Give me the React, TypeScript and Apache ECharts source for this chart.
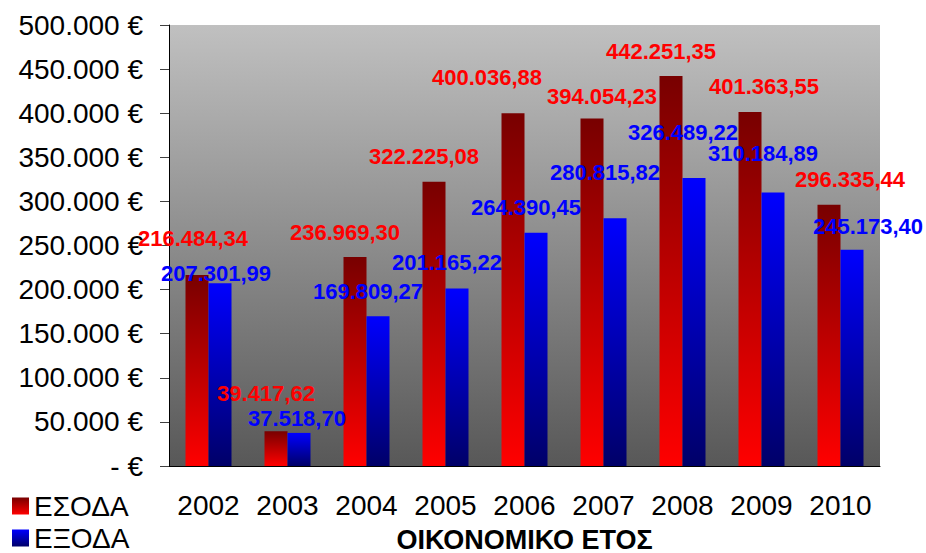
import React, { useEffect, useRef } from "react";
import * as echarts from "echarts";

const years = ["2002", "2003", "2004", "2005", "2006", "2007", "2008", "2009", "2010"];
const income = [216484.34, 39417.62, 236969.3, 322225.08, 400036.88, 394054.23, 442251.35, 401363.55, 296335.44];
const expenses = [207301.99, 37518.7, 169809.27, 201165.22, 264390.45, 280815.82, 326489.22, 310184.89, 245173.4];
const yTicks = [0, 50000, 100000, 150000, 200000, 250000, 300000, 350000, 400000, 450000, 500000];
const seriesNames = ["ΕΣΟΔΑ", "ΕΞΟΔΑ"];

// label offsets (style only) relative to each bar's top
const incomeLabelOffset = [[-4, -26], [-10, -27], [-10, -13], [-10, -14], [-26, -25], [10, -11], [-10, -13], [14, -14], [21, -14]];
const expenseLabelOffset = [[-4, 1], [-2, -3], [-10, -14], [-10, -15], [-10, -14], [-10, -35], [-11, -35], [-10, -28], [16, -12]];

const FONT = "'Liberation Sans', Arial, sans-serif";

function thousands(intStr: string): string {
  return intStr.replace(/\B(?=(\d{3})+(?!\d))/g, ".");
}
function fmtValue(v: number): string {
  const [i, d] = v.toFixed(2).split(".");
  return thousands(i) + "," + d;
}
function fmtAxis(v: number): string {
  if (v === 0) return "- €";
  return thousands(String(Math.round(v))) + " €";
}

export default function App() {
  const ref = useRef<HTMLDivElement>(null);
  useEffect(() => {
    if (!ref.current) return;
    const chart = echarts.init(ref.current, null, { renderer: "svg" });
    const redGrad = new echarts.graphic.LinearGradient(0, 0, 0, 1, [
      { offset: 0, color: "#780000" },
      { offset: 1, color: "#ff0000" },
    ]);
    const blueGrad = new echarts.graphic.LinearGradient(0, 0, 0, 1, [
      { offset: 0, color: "#0000ff" },
      { offset: 1, color: "#000068" },
    ]);
    const labelBase = {
      show: true,
      position: "top" as const,
      distance: 0,
      fontFamily: FONT,
      fontWeight: "bold" as const,
      fontSize: 22,
      formatter: (p: any) => fmtValue(p.value),
    };
    const legendBase = {
      orient: "vertical" as const,
      left: 12,
      itemWidth: 17,
      itemHeight: 17,
      icon: "rect",
      padding: 0,
      textStyle: { fontFamily: FONT, fontSize: 28, color: "#000", lineHeight: 30 },
    };
    chart.setOption({
      animation: false,
      backgroundColor: "#ffffff",
      textStyle: { fontFamily: FONT },
      grid: {
        left: 169,
        right: 46,
        top: 25,
        bottom: 87,
        show: true,
        borderWidth: 0,
        outerBoundsMode: "none",
        containLabel: false,
        backgroundColor: new echarts.graphic.LinearGradient(0, 0, 0, 1, [
          { offset: 0, color: "#c0c0c0" },
          { offset: 1, color: "#585858" },
        ]),
      },
      legend: [
        { ...legendBase, top: 491, data: [seriesNames[0]] },
        { ...legendBase, top: 523, data: [seriesNames[1]] },
      ],
      xAxis: {
        type: "category",
        data: years,
        name: "ΟΙΚΟΝΟΜΙΚΟ ΕΤΟΣ",
        nameLocation: "middle",
        nameGap: 60,
        nameTextStyle: { fontFamily: FONT, fontSize: 27, fontWeight: "bold", color: "#000" },
        axisLine: { lineStyle: { color: "#000", width: 1 } },
        axisTick: { length: 8, lineStyle: { color: "#404040" } },
        axisLabel: { fontFamily: FONT, fontSize: 28, color: "#000", margin: 25, interval: 0 },
      },
      yAxis: {
        type: "value",
        min: yTicks[0],
        max: yTicks[yTicks.length - 1],
        interval: yTicks[1] - yTicks[0],
        splitLine: { show: false },
        axisLine: { show: true, lineStyle: { color: "#000", width: 1 } },
        axisTick: { show: true, length: 9, lineStyle: { color: "#404040" } },
        axisLabel: { fontFamily: FONT, fontSize: 28, color: "#000", margin: 26, formatter: fmtAxis },
      },
      series: [
        {
          name: seriesNames[0],
          type: "bar",
          barWidth: 23,
          barGap: "0%",
          itemStyle: { color: redGrad },
          data: income.map((v, i) => ({
            value: v,
            label: { ...labelBase, color: "#ff0000", offset: incomeLabelOffset[i] },
          })),
        },
        {
          name: seriesNames[1],
          type: "bar",
          barWidth: 23,
          barGap: "0%",
          itemStyle: { color: blueGrad },
          data: expenses.map((v, i) => ({
            value: v,
            label: { ...labelBase, color: "#0000ff", offset: expenseLabelOffset[i] },
          })),
        },
      ],
    });
    return () => chart.dispose();
  }, []);
  return (
    <div
      ref={ref}
      style={{ position: "fixed", left: 0, top: 0, width: 926, height: 553 }}
    />
  );
}
